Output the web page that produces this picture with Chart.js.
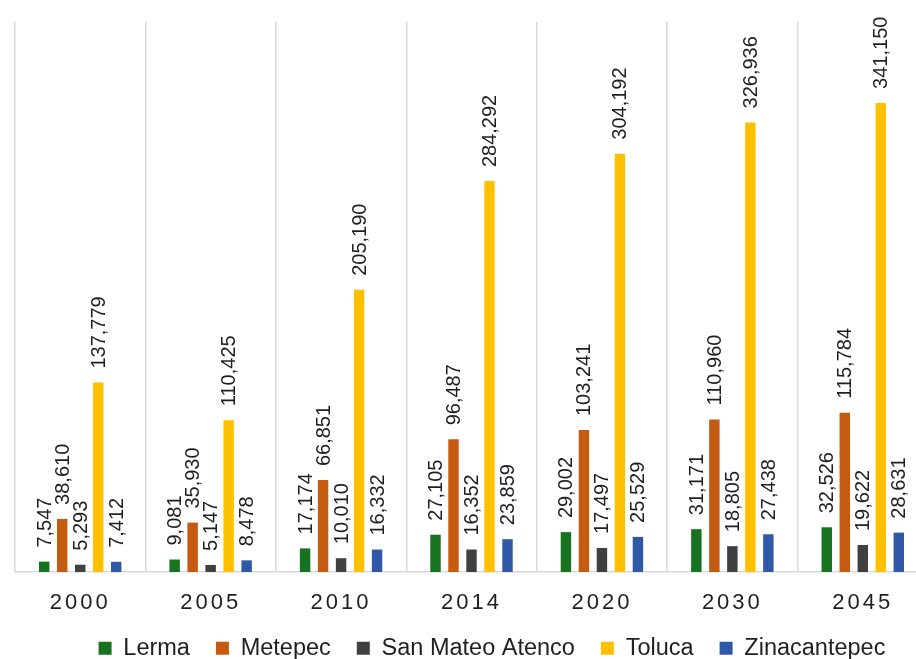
<!DOCTYPE html>
<html>
<head>
<meta charset="utf-8">
<script src="https://cdn.jsdelivr.net/npm/chart.js@4/dist/chart.umd.min.js"></script>
<style>
  html, body { margin: 0; padding: 0; background: #ffffff; overflow: hidden; }
  #wrap { position: relative; width: 984px; height: 670px; }
</style>
</head>
<body>
<div id="wrap"><canvas id="chart"></canvas></div>
<script>
// Population by municipality, selected years
const years = ['2000', '2005', '2010', '2014', '2020', '2030', '2045'];
const lerma = [7547, 9081, 17174, 27105, 29002, 31171, 32526];
const metepec = [38610, 35930, 66851, 96487, 103241, 110960, 115784];
const sanMateoAtenco = [5293, 5147, 10010, 16352, 17497, 18805, 19622];
const toluca = [137779, 110425, 205190, 284292, 304192, 326936, 341150];
const zinacantepec = [7412, 8478, 16332, 23859, 25529, 27438, 28631];

const FONT = "'Liberation Sans', Arial, Helvetica, sans-serif";
const TEXT = '#1f1f1f';

// Rotated value labels above each bar, then letter-spaced year labels
const valueLabels = {
  id: 'valueLabels',
  afterDatasetsDraw(chart) {
    const ctx = chart.ctx;
    ctx.save();
    ctx.font = '20px ' + FONT;
    ctx.fillStyle = TEXT;
    ctx.textAlign = 'left';
    ctx.textBaseline = 'middle';
    chart.data.datasets.forEach((ds, i) => {
      const meta = chart.getDatasetMeta(i);
      meta.data.forEach((bar, j) => {
        ctx.save();
        ctx.translate(bar.x, bar.y - 14);
        ctx.rotate(-Math.PI / 2);
        ctx.fillText(ds.data[j].toLocaleString('en-US'), 0, 1);
        ctx.restore();
      });
    });
    ctx.restore();
    ctx.letterSpacing = '3px';
  },
  afterDraw(chart) {
    chart.ctx.letterSpacing = '0px';
  }
};

new Chart(document.getElementById('chart'), {
  type: 'bar',
  data: {
    labels: years,
    datasets: [
      { label: 'Lerma', data: lerma, backgroundColor: '#17731f' },
      { label: 'Metepec', data: metepec, backgroundColor: '#c55a11' },
      { label: 'San Mateo Atenco', data: sanMateoAtenco, backgroundColor: '#404040' },
      { label: 'Toluca', data: toluca, backgroundColor: '#ffc000' },
      { label: 'Zinacantepec', data: zinacantepec, backgroundColor: '#2f58a6' }
    ]
  },
  options: {
    responsive: true,
    maintainAspectRatio: false,
    animation: false,
    datasets: {
      bar: { barPercentage: 0.58, categoryPercentage: 0.69, borderWidth: 0 }
    },
    layout: { padding: { left: 15, right: 15, top: 22, bottom: 0 } },
    plugins: {
      tooltip: { enabled: false },
      legend: {
        position: 'bottom',
        labels: {
          font: { family: FONT, size: 23.5 },
          color: TEXT,
          boxWidth: 13,
          boxHeight: 13,
          padding: 26
        }
      }
    },
    scales: {
      x: {
        grid: { color: '#d9d9d9', lineWidth: 1.5, offset: true, drawTicks: false },
        border: { display: true, color: '#d9d9d9', width: 1.5 },
        ticks: { font: { family: FONT, size: 22, lineHeight: 1 }, color: TEXT, padding: 20, z: 1, maxRotation: 0 },
        afterFit(scale) { scale.height = 38.5; }
      },
      y: {
        position: 'right',
        min: 0,
        max: 400000,
        grid: { display: false },
        border: { display: false },
        ticks: { display: false },
        afterFit(scale) { scale.width = 41; }
      }
    }
  },
  plugins: [valueLabels]
});
</script>
</body>
</html>
